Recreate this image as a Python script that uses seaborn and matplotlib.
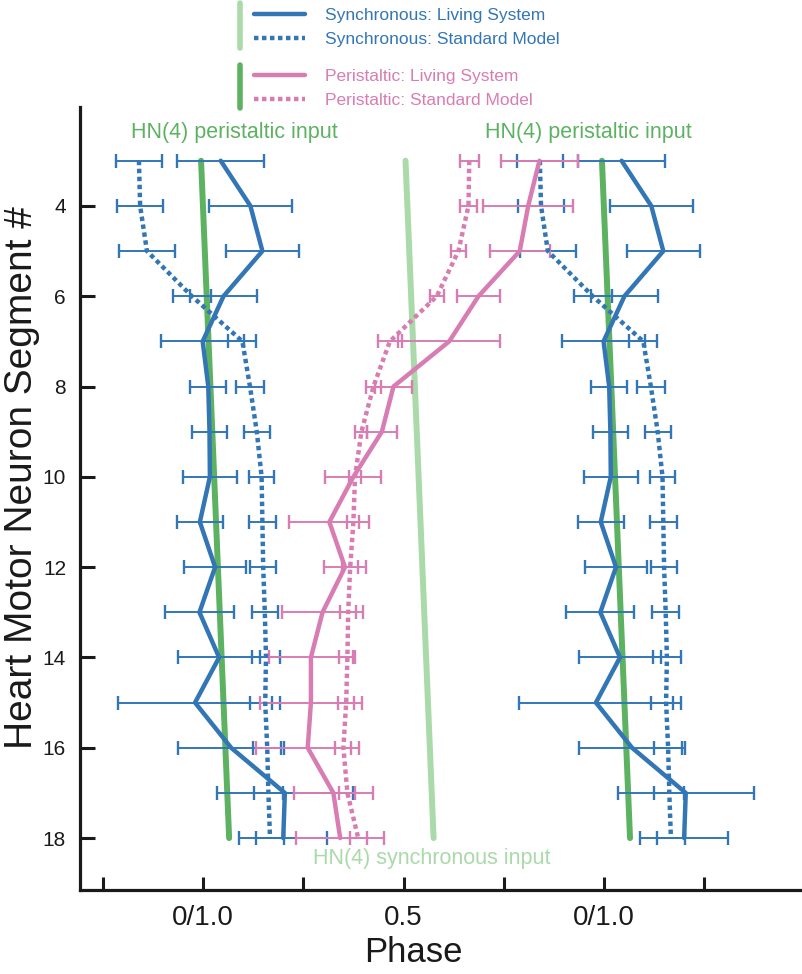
import pandas as pd
import seaborn as sns
import matplotlib.pyplot as plt
from matplotlib.lines import Line2D

# ---- data (phase, per segment 3..18) ----
segments = list(range(3, 19))

sync_living = [0.044, 0.118, 0.148, 0.051, -0.001, 0.013, 0.016, 0.017,
               -0.008, 0.030, -0.009, 0.040, -0.020, 0.070, 0.204, 0.200]
sync_living_err = [0.108, 0.103, 0.091, 0.083, 0.104, 0.045, 0.044, 0.067,
                   0.057, 0.078, 0.085, 0.102, 0.193, 0.132, 0.170, 0.110]
sync_model = [-0.160, -0.157, -0.140, -0.028, 0.098, 0.117, 0.134, 0.146,
              0.148, 0.150, 0.154, 0.157, 0.155, 0.160, 0.163, 0.167]
sync_model_err = [0.058, 0.057, 0.070, 0.047, 0.035, 0.035, 0.032, 0.032,
                  0.034, 0.032, 0.033, 0.035, 0.037, 0.035, 0.037, 0.035]

peri_living = [0.839, 0.811, 0.790, 0.687, 0.614, 0.475, 0.446, 0.375,
               0.315, 0.354, 0.298, 0.269, 0.269, 0.261, 0.325, 0.342]
peri_living_err = [0.095, 0.112, 0.075, 0.053, 0.127, 0.046, 0.038, 0.070,
                   0.100, 0.053, 0.100, 0.104, 0.127, 0.128, 0.099, 0.110]
peri_model = [0.664, 0.662, 0.637, 0.583, 0.466, 0.425, 0.395, 0.379,
              0.375, 0.367, 0.362, 0.360, 0.357, 0.350, 0.360, 0.387]
peri_model_err = [0.024, 0.022, 0.019, 0.017, 0.030, 0.018, 0.015, 0.015,
                  0.015, 0.020, 0.020, 0.020, 0.020, 0.020, 0.020, 0.021]

input_segments = [3, 18]
sync_input = [0.505, 0.575]
peri_input = [-0.005, 0.065]

xtick_pos = [-0.25, 0, 0.25, 0.5, 0.75, 1.0, 1.25]
xtick_labels = ['', '0/1.0', '', '0.5', '', '0/1.0', '']
ytick_pos = [4, 6, 8, 10, 12, 14, 16, 18]

BLUE = '#3376b6'
PINK = '#d87db3'
GREEN = '#5db262'
LIGHT = '#aad9aa'
DOTS = (0, (1, 0.8))

sns.set_theme(style='ticks')
plt.rcParams['font.family'] = ['Liberation Sans', 'DejaVu Sans']

fig = plt.figure(figsize=(8.02, 9.74), dpi=100)
ax = fig.add_axes([80 / 802, 1 - 890 / 974, 720 / 802, 783 / 974])

# input phase lines
sns.lineplot(x=sync_input, y=input_segments, orient='y', color=LIGHT, lw=4.3, ax=ax, zorder=1)
for shift in (0, 1):
    sns.lineplot(x=[p + shift for p in peri_input], y=input_segments, orient='y',
                 color=GREEN, lw=4.3, ax=ax, zorder=1)

# synchronous data, drawn twice (phase wraps at 0/1.0)
for shift in (0, 1):
    df = pd.DataFrame({'segment': segments,
                       'living': [p + shift for p in sync_living],
                       'model': [p + shift for p in sync_model]})
    ax.errorbar(df['living'], df['segment'], xerr=sync_living_err, fmt='none',
                ecolor=BLUE, elinewidth=1.4, capsize=4.7, capthick=1.7, zorder=2)
    ax.errorbar(df['model'], df['segment'], xerr=sync_model_err, fmt='none',
                ecolor=BLUE, elinewidth=1.4, capsize=4.7, capthick=1.7, zorder=2)
    sns.lineplot(data=df, x='living', y='segment', orient='y', color=BLUE, lw=3.2,
                 ax=ax, zorder=3)
    sns.lineplot(data=df, x='model', y='segment', orient='y', color=BLUE, lw=3.2,
                 linestyle=DOTS, ax=ax, zorder=3)

# peristaltic data
dfp = pd.DataFrame({'segment': segments, 'living': peri_living, 'model': peri_model})
ax.errorbar(dfp['living'], dfp['segment'], xerr=peri_living_err, fmt='none',
            ecolor=PINK, elinewidth=1.4, capsize=4.7, capthick=1.7, zorder=2)
ax.errorbar(dfp['model'], dfp['segment'], xerr=peri_model_err, fmt='none',
            ecolor=PINK, elinewidth=1.4, capsize=4.7, capthick=1.7, zorder=2)
sns.lineplot(data=dfp, x='living', y='segment', orient='y', color=PINK, lw=3.2, ax=ax, zorder=3)
sns.lineplot(data=dfp, x='model', y='segment', orient='y', color=PINK, lw=3.2,
             linestyle=DOTS, ax=ax, zorder=3)

ax.text(0.079, 2.38, 'HN(4) peristaltic input', color=GREEN, ha='center', va='center', fontsize=15.5)
ax.text(0.96, 2.38, 'HN(4) peristaltic input', color=GREEN, ha='center', va='center', fontsize=15.5)
ax.text(0.571, 18.45, 'HN(4) synchronous input', color=LIGHT, ha='center', va='center', fontsize=15.5)

ax.set_xlim(-0.307, 1.489)
ax.set_ylim(19.15, 1.81)
ax.set_xticks(xtick_pos)
ax.set_xticklabels(xtick_labels)
ax.set_yticks(ytick_pos)
ax.tick_params(axis='x', direction='in', length=9.5, width=2.2, pad=11, labelsize=20, colors='#1a1a1a')
ax.tick_params(axis='y', direction='in', length=10.5, width=2.2, pad=10, labelsize=15, colors='#1a1a1a')
sns.despine(ax=ax)
for side in ('left', 'bottom'):
    ax.spines[side].set_linewidth(2.3)
    ax.spines[side].set_color('#1a1a1a')

ax.set_xlabel('Phase', fontsize=25, color='#1a1a1a')
ax.set_ylabel('Heart Motor Neuron Segment #', fontsize=28, color='#1a1a1a')
ax.xaxis.set_label_coords(0.4625, -0.059)
ax.yaxis.set_label_coords(-0.055, 0.527)

# legend: two groups, each with its input colour bar at the left
sync_handles = [Line2D([], [], color=BLUE, lw=3.2), Line2D([], [], color=BLUE, lw=3.2, ls=DOTS)]
peri_handles = [Line2D([], [], color=PINK, lw=3.2), Line2D([], [], color=PINK, lw=3.2, ls=DOTS)]
leg_kw = dict(loc='upper left', frameon=False, fontsize=12.5, handlelength=2.95, handletextpad=1.15,
              labelspacing=0.5, borderpad=0, borderaxespad=0, labelcolor='linecolor')
leg1 = fig.legend(sync_handles, ['Synchronous: Living System', 'Synchronous: Standard Model'],
                  bbox_to_anchor=(254 / 802, 1 - 8 / 974), **leg_kw)
leg2 = fig.legend(peri_handles, ['Peristaltic: Living System', 'Peristaltic: Standard Model'],
                  bbox_to_anchor=(254 / 802, 1 - 69 / 974), **leg_kw)
fig.add_artist(Line2D([240 / 802] * 2, [1 - 3 / 974, 1 - 48 / 974], transform=fig.transFigure,
                      color=LIGHT, lw=4))
fig.add_artist(Line2D([240 / 802] * 2, [1 - 65 / 974, 1 - 108 / 974], transform=fig.transFigure,
                      color=GREEN, lw=4))

fig.savefig('out.png', dpi=100)
